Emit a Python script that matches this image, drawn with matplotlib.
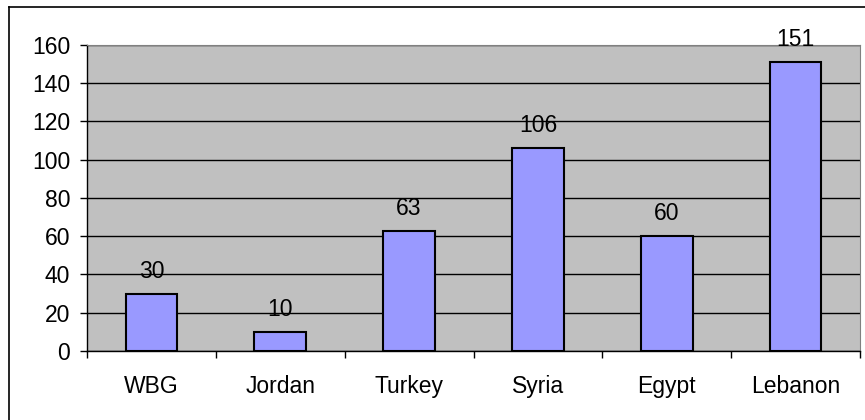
import matplotlib.pyplot as plt
from matplotlib.lines import Line2D

countries = ['WBG', 'Jordan', 'Turkey', 'Syria', 'Egypt', 'Lebanon']
values = [30, 10, 63, 106, 60, 151]
yticks = [0, 20, 40, 60, 80, 100, 120, 140, 160]

plt.rcParams['font.family'] = ['Liberation Sans', 'DejaVu Sans']
fs = 16.5

fig = plt.figure(figsize=(8.65, 4.2), dpi=100)
ax = fig.add_axes([0.1006, 0.1643, 0.8936, 0.7286])
ax.set_facecolor('#C0C0C0')

x = range(len(countries))
ax.bar(x, values, width=0.4, color='#9999FF', edgecolor='black', linewidth=1.5, zorder=3)
for i, v in enumerate(values):
    ax.annotate(str(v), (i, v), xytext=(0, 11.5), textcoords='offset points',
                ha='center', va='baseline', fontsize=fs, annotation_clip=False, zorder=4)

ax.set_xlim(-0.5, len(countries) - 0.5)
ax.set_ylim(0, 160)
ax.set_yticks(yticks)
ax.yaxis.grid(True, color='black', linewidth=1, zorder=1)
ax.set_axisbelow(True)

ax.set_xticks([i - 0.5 for i in range(len(countries) + 1)])
ax.set_xticklabels([])
ax.set_xticks(list(x), minor=True)
ax.set_xticklabels(countries, minor=True, fontsize=fs)
ax.tick_params(axis='x', which='minor', length=0, pad=17)
ax.tick_params(axis='x', which='major', length=5, direction='out', width=1)
ax.tick_params(axis='y', length=5, width=1, labelsize=fs, pad=7)

for s in ['top', 'right']:
    ax.spines[s].set_color('#808080')
for s in ['left', 'bottom']:
    ax.spines[s].set_color('black')
    ax.spines[s].set_linewidth(1)

# outer chart border (left and top edges visible)
fig.add_artist(Line2D([9 / 865, 9 / 865], [0, 1 - 7 / 420], color='black', linewidth=1.2))
fig.add_artist(Line2D([9 / 865, 1], [1 - 7 / 420, 1 - 7 / 420], color='black', linewidth=1.2))

fig.savefig('out.png', dpi=100)
